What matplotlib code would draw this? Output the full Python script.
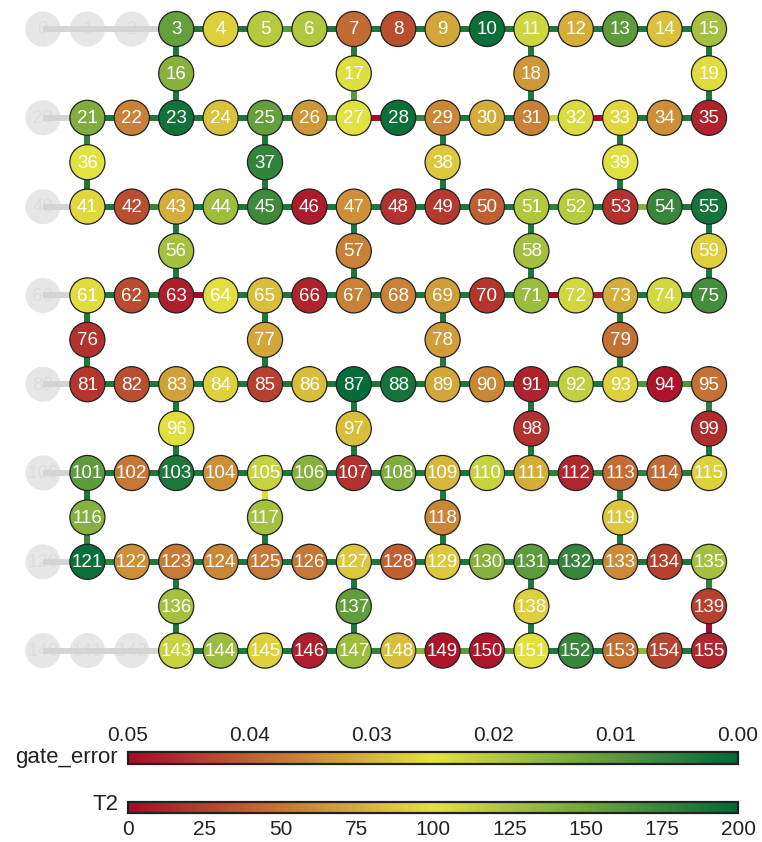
import numpy as np
import matplotlib
matplotlib.use("Agg")
import matplotlib.pyplot as plt
from matplotlib.colors import LinearSegmentedColormap, Normalize
from matplotlib.cm import ScalarMappable
from matplotlib.patches import Circle

plt.rcParams["font.family"] = ["Liberation Sans", "DejaVu Sans"]
LABEL_FONT = ["Liberation Sans Narrow", "Liberation Sans", "DejaVu Sans"]

# ── data ──────────────────────────────────────────────────────────────────────

ghost_qubits = [0, 1, 2, 20, 40, 60, 80, 100, 120, 140, 141, 142]
ghost_edges = [(0, 1), (1, 2), (2, 3), (20, 21), (40, 41), (60, 61),
               (80, 81), (100, 101), (120, 121), (140, 141), (141, 142), (142, 143)]

# T2 per qubit (us)
t2 = {
    3: 155, 4: 92, 5: 120, 6: 122, 7: 45, 8: 32, 9: 72, 10: 195, 11: 110,
    12: 75, 13: 158, 14: 85, 15: 128,
    16: 140, 17: 103, 18: 65, 19: 97,
    21: 143, 22: 55, 23: 192, 24: 85, 25: 155, 26: 65, 27: 100, 28: 195,
    29: 58, 30: 75, 31: 55, 32: 105, 33: 95, 34: 62, 35: 12,
    36: 100, 37: 178, 38: 88, 39: 102,
    41: 95, 42: 32, 43: 75, 44: 130, 45: 172, 46: 8, 47: 62, 48: 18,
    49: 22, 50: 40, 51: 122, 52: 120, 53: 18, 54: 175, 55: 190,
    56: 128, 57: 55, 58: 128, 59: 92,
    61: 97, 62: 30, 63: 10, 64: 102, 65: 83, 66: 12, 67: 55, 68: 55,
    69: 68, 70: 20, 71: 132, 72: 108, 73: 75, 74: 108, 75: 170,
    76: 18, 77: 72, 78: 68, 79: 48,
    81: 20, 82: 32, 83: 70, 84: 92, 85: 25, 86: 83, 87: 198, 88: 190,
    89: 72, 90: 58, 91: 12, 92: 115, 93: 92, 94: 5, 95: 48,
    96: 102, 97: 83, 98: 18, 99: 16,
    101: 158, 102: 50, 103: 188, 104: 62, 105: 112, 106: 140, 107: 18,
    108: 143, 109: 80, 110: 112, 111: 76, 112: 14, 113: 46, 114: 45, 115: 92,
    116: 140, 117: 128, 118: 58, 119: 88,
    121: 195, 122: 62, 123: 52, 124: 58, 125: 52, 126: 50, 127: 88,
    128: 40, 129: 88, 130: 140, 131: 158, 132: 175, 133: 60, 134: 25, 135: 128,
    136: 128, 137: 157, 138: 92, 139: 25,
    143: 112, 144: 132, 145: 92, 146: 10, 147: 132, 148: 83, 149: 5,
    150: 6, 151: 102, 152: 175, 153: 48, 154: 28, 155: 14,
}

# two-qubit gate error per coupler
edges = [
    (3, 4, .003), (4, 5, .003), (5, 6, .010), (6, 7, .003), (7, 8, .003),
    (8, 9, .003), (9, 10, .003), (10, 11, .003), (11, 12, .003), (12, 13, .003),
    (13, 14, .003), (14, 15, .003),
    (3, 16, .003), (16, 23, .003), (7, 17, .004), (17, 27, .010),
    (11, 18, .003), (18, 31, .003), (15, 19, .003), (19, 35, .003),
    (21, 22, .003), (22, 23, .003), (23, 24, .003), (24, 25, .003), (25, 26, .003),
    (26, 27, .010), (27, 28, .050), (28, 29, .006), (29, 30, .003), (30, 31, .003),
    (31, 32, .022), (32, 33, .050), (33, 34, .003), (34, 35, .003),
    (21, 36, .005), (36, 41, .003), (25, 37, .003), (37, 45, .003),
    (29, 38, .003), (38, 49, .003), (33, 39, .003), (39, 53, .003),
    (41, 42, .003), (42, 43, .006), (43, 44, .003), (44, 45, .003), (45, 46, .003),
    (46, 47, .003), (47, 48, .003), (48, 49, .003), (49, 50, .003), (50, 51, .003),
    (51, 52, .005), (52, 53, .003), (53, 54, .015), (54, 55, .003),
    (43, 56, .003), (56, 63, .003), (47, 57, .003), (57, 67, .003),
    (51, 58, .003), (58, 71, .003), (55, 59, .003), (59, 75, .003),
    (61, 62, .003), (62, 63, .003), (63, 64, .050), (64, 65, .003), (65, 66, .003),
    (66, 67, .003), (67, 68, .003), (68, 69, .003), (69, 70, .003), (70, 71, .003),
    (71, 72, .050), (72, 73, .048), (73, 74, .003), (74, 75, .003),
    (61, 76, .003), (76, 81, .003), (65, 77, .003), (77, 85, .003),
    (69, 78, .003), (78, 89, .003), (73, 79, .003), (79, 93, .003),
    (81, 82, .003), (82, 83, .003), (83, 84, .003), (84, 85, .003), (85, 86, .003),
    (86, 87, .003), (87, 88, .003), (88, 89, .003), (89, 90, .003), (90, 91, .003),
    (91, 92, .005), (92, 93, .003), (93, 94, .009), (94, 95, .009),
    (83, 96, .003), (96, 103, .003), (87, 97, .003), (97, 107, .003),
    (91, 98, .003), (98, 111, .003), (95, 99, .005), (99, 115, .003),
    (101, 102, .003), (102, 103, .003), (103, 104, .003), (104, 105, .003),
    (105, 106, .003), (106, 107, .003), (107, 108, .003), (108, 109, .003),
    (109, 110, .003), (110, 111, .003), (111, 112, .005), (112, 113, .005),
    (113, 114, .005), (114, 115, .004),
    (101, 116, .003), (116, 121, .006), (105, 117, .024), (117, 125, .003),
    (109, 118, .003), (118, 129, .003), (113, 119, .003), (119, 133, .003),
    (121, 122, .006), (122, 123, .003), (123, 124, .003), (124, 125, .003),
    (125, 126, .003), (126, 127, .003), (127, 128, .003), (128, 129, .003),
    (129, 130, .003), (130, 131, .003), (131, 132, .003), (132, 133, .003),
    (133, 134, .003), (134, 135, .003),
    (123, 136, .003), (136, 143, .003), (127, 137, .003), (137, 147, .003),
    (131, 138, .003), (138, 151, .003), (135, 139, .005), (139, 155, .050),
    (143, 144, .003), (144, 145, .003), (145, 146, .003), (146, 147, .003),
    (147, 148, .005), (148, 149, .015), (149, 150, .010), (150, 151, .011),
    (151, 152, .003), (152, 153, .003), (153, 154, .016), (154, 155, .003),
]

T2_MAX = 200
ERR_MAX = 0.05

cmap = LinearSegmentedColormap.from_list("ryg", ["#a80a2a", "#e3e23f", "#00693a"])
t2_norm = Normalize(0, T2_MAX)
err_norm = Normalize(0, ERR_MAX)
cmap_err = cmap.reversed()

RADIUS = 0.395


def grid_pos(q):
    """Heavy-hex layout: 16 qubits per long row, 4 bridge qubits in between."""
    block, rem = divmod(q, 20)
    if rem < 16:
        return rem, 2 * block
    bridge_cols = (3, 7, 11, 15) if block % 2 == 0 else (1, 5, 9, 13)
    return bridge_cols[rem - 16], 2 * block + 1


# ── figure ────────────────────────────────────────────────────────────────────

fig = plt.figure(figsize=(7.62, 8.42), dpi=100)
ax = fig.add_axes([0, 0, 1, 1])
ax.set_xlim(-43 / 44.4, (762 - 43) / 44.4)
ax.set_ylim((842 - 29) / 44.4, -29 / 44.4)
ax.set_aspect("equal")
ax.axis("off")

# inactive qubits
for q in ghost_qubits:
    x, y = grid_pos(q)
    ax.add_patch(Circle((x, y), RADIUS, facecolor="#e6e6e6", edgecolor="none", zorder=1))
    ax.text(x, y + 0.02, str(q), color="#dcdcdc", fontsize=13.5, family=LABEL_FONT,
            ha="center", va="center", zorder=1.5)
for a, b in ghost_edges:
    (x0, y0), (x1, y1) = grid_pos(a), grid_pos(b)
    ax.plot([x0, x1], [y0, y1], color="#d4d4d4", lw=4.3, solid_capstyle="butt", zorder=2)

# couplers
for a, b, err in edges:
    (x0, y0), (x1, y1) = grid_pos(a), grid_pos(b)
    ax.plot([x0, x1], [y0, y1], color=cmap_err(err_norm(err)), lw=4.3,
            solid_capstyle="butt", zorder=3)

# qubits
for q, val in t2.items():
    x, y = grid_pos(q)
    ax.add_patch(Circle((x, y), RADIUS, facecolor=cmap(t2_norm(val)),
                        edgecolor="#222222", lw=0.9, zorder=4))
    ax.text(x, y + 0.02, str(q), color="white", fontsize=13.5, family=LABEL_FONT,
            ha="center", va="center", zorder=5)

# ── colorbars ─────────────────────────────────────────────────────────────────

cb_left, cb_width = 128 / 762, 610 / 762

cax_err = fig.add_axes([cb_left, 1 - 764 / 842, cb_width, 12 / 842])
cb_err = fig.colorbar(ScalarMappable(norm=err_norm, cmap=cmap_err), cax=cax_err,
                      orientation="horizontal")
cax_err.invert_xaxis()
cax_err.xaxis.set_ticks_position("top")
cb_err.set_ticks([0.05, 0.04, 0.03, 0.02, 0.01, 0.00])
cb_err.set_ticklabels(["0.05", "0.04", "0.03", "0.02", "0.01", "0.00"])
cax_err.tick_params(length=0, labelsize=15, pad=5, labelcolor="#222222")
cb_err.outline.set_linewidth(1.6)
cb_err.outline.set_edgecolor("#222222")
fig.text(118 / 762, 1 - 757 / 842, "gate_error", fontsize=16, color="#222222",
         ha="right", va="center")

cax_t2 = fig.add_axes([cb_left, 1 - 813 / 842, cb_width, 11 / 842])
cb_t2 = fig.colorbar(ScalarMappable(norm=t2_norm, cmap=cmap), cax=cax_t2,
                     orientation="horizontal")
cb_t2.set_ticks(np.arange(0, 201, 25))
cax_t2.tick_params(length=0, labelsize=15, pad=5, labelcolor="#222222")
cb_t2.outline.set_linewidth(1.6)
cb_t2.outline.set_edgecolor("#222222")
fig.text(118 / 762, 1 - 804 / 842, "T2", fontsize=16, color="#222222",
         ha="right", va="center")

fig.savefig("out.png", dpi=100)
